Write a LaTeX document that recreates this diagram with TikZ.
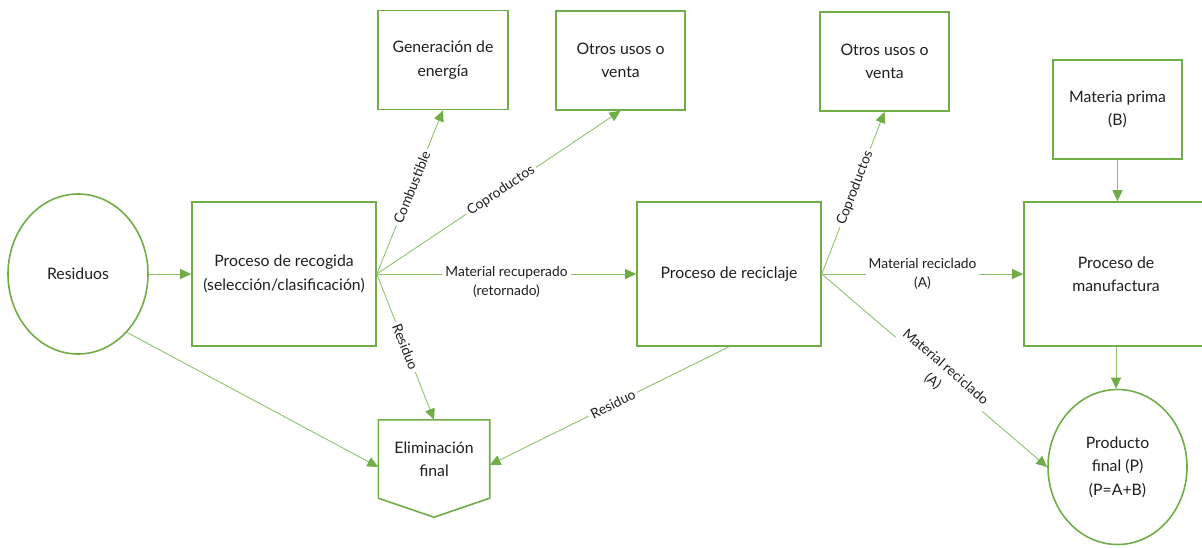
\documentclass[tikz,border=0pt]{standalone}
\usepackage{fontspec}
\setmainfont{Lato}
\usetikzlibrary{arrows.meta,shapes.geometric,calc}
\definecolor{gbox}{HTML}{70AD47}
\definecolor{gline}{HTML}{8EC36B}
\definecolor{txt}{HTML}{1F1F1F}
\tikzset{
  boxnode/.style={draw=gbox,line width=1.6pt,rectangle,inner sep=0pt,align=center,
     font=\fontsize{15.8}{23.5}\selectfont,text=txt},
  ellnode/.style={draw=gbox,line width=1.6pt,ellipse,inner sep=0pt,align=center,
     font=\fontsize{15.8}{23.5}\selectfont,text=txt},
  conn/.style={draw=gline,line width=0.9pt,-{Triangle[length=11pt,width=10pt,color=gbox]}},
  lbl/.style={fill=white,inner sep=3pt,align=center,text=txt,
     font=\fontsize{13.8}{19.5}\selectfont}
}
\begin{document}
\begin{tikzpicture}[x=1pt,y=-1pt]
\useasboundingbox (0,0) rectangle (1202,547);
% nodes
\node[ellnode,minimum width=140pt,minimum height=160pt] (res) at (78,274) {Residuos};
\node[boxnode,minimum width=184pt,minimum height=144pt] (rec) at (284,274) {Proceso de recogida\\(selección/clasificación)};
\node[boxnode,minimum width=184pt,minimum height=144pt] (recic) at (729,274) {Proceso de reciclaje};
\node[boxnode,minimum width=184pt,minimum height=144pt] (manuf) at (1116,274) {Proceso de\\manufactura};
\node[boxnode,minimum width=130pt,minimum height=99pt] (gen) at (443,60) {Generación de\\energía};
\node[boxnode,minimum width=129pt,minimum height=99pt] (otr1) at (620.5,60.5) {Otros usos o\\venta};
\node[boxnode,minimum width=129pt,minimum height=99pt] (otr2) at (884.5,61.5) {Otros usos o\\venta};
\node[boxnode,minimum width=129pt,minimum height=99pt] (mat) at (1117.5,109.5) {Materia prima\\(B)};
\node[ellnode,minimum width=139pt,minimum height=155pt] (prod) at (1117.5,467) {Producto\\final (P)\\(P=A+B)};
% Eliminación final (pentagon)
\node[inner sep=0pt,minimum width=111pt,minimum height=78pt,align=center,
  font=\fontsize{15.8}{23.5}\selectfont,text=txt] (elim) at (434,459) {Eliminación\\final};
\draw[gbox,line width=1.6pt,line join=miter] (elim.north west) -- (elim.north east) -- (elim.south east)
  -- ($(elim.south)+(0,19)$) -- (elim.south west) -- cycle;
% connectors
\draw[conn] (res) -- (rec);
\draw[conn] (res.-50) -- ([yshift=-8pt]elim.west);
\draw[conn] (rec.east) -- node[lbl,sloped,pos=0.53] {Combustible} (gen.south);
\draw[conn] (rec.east) -- node[lbl,sloped,pos=0.51] {Coproductos} (otr1.south);
\draw[conn] (rec.east) -- node[lbl,pos=0.5,yshift=-8pt] {Material recuperado\\(retornado)} (recic.west);
\draw[conn] (rec.east) -- node[lbl,sloped,pos=0.5] {Residuo} (elim.north);
\draw[conn] (recic.south) -- node[lbl,sloped,pos=0.485] {Residuo} ([yshift=-6pt]elim.east);
\draw[conn] (recic.east) -- node[lbl,sloped,pos=0.53] {Coproductos} (otr2.south);
\draw[conn] (recic.east) -- node[lbl,pos=0.5] {Material reciclado\\(A)} (manuf.west);
\draw[conn] (recic.east) -- node[lbl,sloped,pos=0.52] {Material reciclado\\(A)} (prod.west);
\draw[conn] (mat.south) -- (mat.south |- manuf.north);
\draw[conn] (manuf.south) -- (manuf.south |- prod.north);
\end{tikzpicture}
\end{document}
